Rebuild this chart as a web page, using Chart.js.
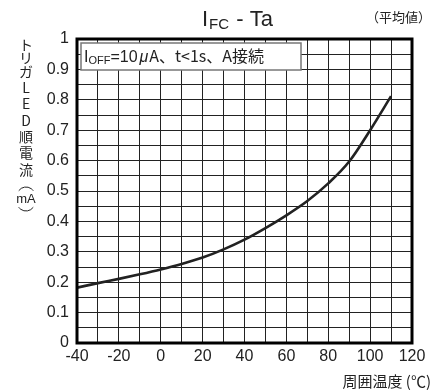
<!DOCTYPE html>
<html lang="ja">
<head>
<meta charset="UTF-8">
<title>IFC - Ta</title>
<script src="https://cdn.jsdelivr.net/npm/chart.js"></script>
<style>
  body { margin: 0; background: #fff; }
  canvas { display: block; }
</style>
</head>
<body>
<canvas id="myChart" width="440" height="392"></canvas>
<script>
// 周囲温度 (℃)
const temps = [-40, -30, -20, -10, 0, 10, 20, 30, 40, 50, 60, 70, 80, 90, 100, 110];
// トリガLED順電流 (mA)
const ifc = [0.182, 0.197, 0.211, 0.226, 0.242, 0.260, 0.281, 0.308, 0.340, 0.378, 0.420, 0.467, 0.525, 0.597, 0.700, 0.812];

const xTickLabels = [-40, -20, 0, 20, 40, 60, 80, 100, 120];
const yTickLabels = ['0', '0.1', '0.2', '0.3', '0.4', '0.5', '0.6', '0.7', '0.8', '0.9', '1'];
const yTitleChars = ['ト', 'リ', 'ガ', 'L', 'E', 'D', '順', '電', '流'];

const latin = '"Liberation Sans", Arial, sans-serif';
const jp = '"Noto Sans CJK JP", sans-serif';

// タイトル・注記・軸タイトル・外枠
const decor = {
  id: 'decor',
  afterDraw(chart) {
    const ctx = chart.ctx;
    const a = chart.chartArea;
    ctx.save();

    // 外枠
    ctx.strokeStyle = '#000';
    ctx.lineWidth = 3;
    ctx.strokeRect(a.left, a.top, a.right - a.left, a.bottom - a.top);

    // タイトル I_FC - Ta
    ctx.fillStyle = '#222';
    ctx.textBaseline = 'alphabetic';
    ctx.textAlign = 'left';
    let x = 202;
    ctx.font = '22px ' + latin;
    ctx.fillText('I', x, 26);
    x += ctx.measureText('I').width + 1;
    ctx.font = '15px ' + latin;
    ctx.fillText('FC', x, 29);
    x += ctx.measureText('FC').width + 1;
    ctx.font = '22px ' + latin;
    ctx.fillText(' - Ta', x, 26);

    ctx.font = '13px ' + jp;
    ctx.fillText('（平均値）', 366, 22);

    // 注記ボックス
    ctx.fillStyle = '#fff';
    ctx.fillRect(81, 43, 220, 27);
    ctx.strokeStyle = '#777';
    ctx.lineWidth = 1.5;
    ctx.strokeRect(81, 43, 220, 27);
    ctx.fillStyle = '#222';
    x = 84;
    ctx.font = '16px ' + latin;
    ctx.fillText('I', x, 62);
    x += ctx.measureText('I').width;
    ctx.font = '11px ' + latin;
    ctx.fillText('OFF', x, 64);
    x += ctx.measureText('OFF').width;
    ctx.font = '16px ' + latin;
    ctx.fillText('=10', x, 62);
    x += ctx.measureText('=10').width + 2;
    ctx.font = 'italic 16px ' + latin;
    ctx.fillText('μ', x, 62);
    x += ctx.measureText('μ').width + 1;
    ctx.font = '16px ' + jp;
    ctx.fillText('A、t<1s、A接続', x, 62);

    // 縦書きの軸タイトル
    ctx.textAlign = 'center';
    ctx.textBaseline = 'middle';
    ctx.font = '14px ' + jp;
    const ys = [45, 58, 72, 88, 104, 121, 137, 153, 170];
    yTitleChars.forEach((c, i) => ctx.fillText(c, 26, ys[i]));
    ctx.font = '13px ' + latin;
    ctx.fillText('mA', 26, 199);
    // 縦書きの括弧
    ctx.strokeStyle = '#222';
    ctx.lineWidth = 1;
    ctx.beginPath();
    ctx.arc(26, 196, 9, Math.PI * 1.2, Math.PI * 1.8);
    ctx.stroke();
    ctx.beginPath();
    ctx.arc(26, 202, 9, Math.PI * 0.2, Math.PI * 0.8);
    ctx.stroke();

    // x軸タイトル
    ctx.textAlign = 'right';
    ctx.textBaseline = 'middle';
    ctx.font = '15px ' + jp;
    ctx.fillText('周囲温度 (℃)', 431, 381);

    ctx.restore();
  }
};

new Chart(document.getElementById('myChart').getContext('2d'), {
  type: 'line',
  data: {
    datasets: [{
      data: temps.map((t, i) => ({ x: t, y: ifc[i] })),
      borderColor: '#222',
      borderWidth: 2.6,
      pointRadius: 0,
      cubicInterpolationMode: 'monotone',
      fill: false
    }]
  },
  options: {
    responsive: false,
    animation: false,
    layout: { padding: { left: 0, top: 39, right: 28, bottom: 0 } },
    plugins: { legend: { display: false }, tooltip: { enabled: false } },
    scales: {
      x: {
        type: 'linear',
        min: -40, max: 120,
        afterFit: s => { s.height = 49; },
        grid: { color: '#222', lineWidth: 1, drawTicks: false },
        border: { display: false },
        ticks: {
          stepSize: 10,
          autoSkip: false,
          maxRotation: 0,
          padding: 4,
          color: '#222',
          font: { family: latin, size: 16 },
          callback: v => xTickLabels.includes(v) ? String(v) : ''
        }
      },
      y: {
        min: 0, max: 1,
        afterFit: s => { s.width = 77; },
        grid: { color: '#222', lineWidth: 1, drawTicks: false },
        border: { display: false },
        ticks: {
          stepSize: 0.05,
          autoSkip: false,
          padding: 8,
          color: '#222',
          font: { family: latin, size: 16 },
          callback: v => {
            const s = String(Math.round(v * 100) / 100);
            return yTickLabels.includes(s) ? s : '';
          }
        }
      }
    }
  },
  plugins: [decor]
});
</script>
</body>
</html>
